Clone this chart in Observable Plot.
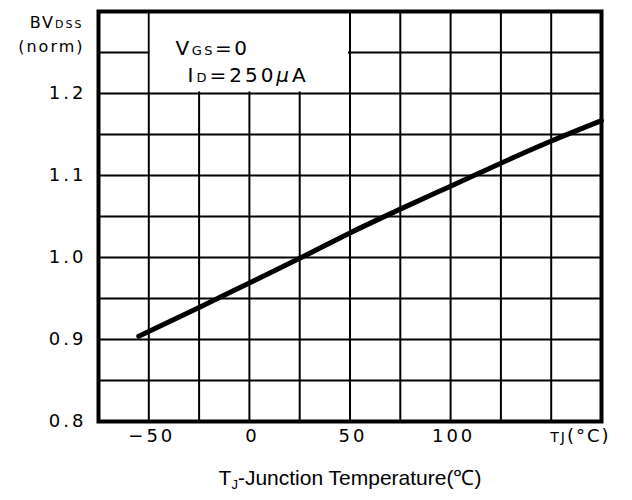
<!DOCTYPE html>
<html><head><meta charset="utf-8">
<script src="https://cdn.jsdelivr.net/npm/d3@7"></script>
<script src="https://cdn.jsdelivr.net/npm/@observablehq/plot@0.6"></script>
<style>
body{margin:0;background:#fff;}
#chart svg{display:block;}
</style>
</head><body><div id="chart"></div>
<script>
// ---- data ----
const temps = [-55, -25, 0, 25, 50, 75, 100, 125, 150, 175];
const bvdss = [0.904, 0.939, 0.969, 0.999, 1.030, 1.059, 1.087, 1.115, 1.142, 1.167];
const xTicks = [-50, 0, 50, 100, 150];
const xTickLabels = ["\u221250", "0", "50", "100", "TJ(\u00b0C)"];
const yTicks = [0.8, 0.9, 1.0, 1.1, 1.2];
const yTickLabels = ["0.8", "0.9", "1.0", "1.1", "1.2"];
const xGrid = [-50, -25, 0, 25, 50, 75, 100, 125, 150];
const yGrid = [0.85, 0.9, 0.95, 1.0, 1.05, 1.1, 1.15, 1.2, 1.25];
const xDomain = [-75, 175];
const yDomain = [0.8, 1.3];
const noteBox = [{x1: -50, x2: 50, y1: 1.2, y2: 1.3}];
const yTitle1 = "BVDSS";
const yTitle2 = "(norm)";
const note1 = "VGS=0";
const note2 = "ID=250\u00b5A";
const xTitle = "TJ-Junction Temperature(\u2103)";

const data = temps.map((t, i) => ({t, v: bvdss[i]}));
const FONT = "DejaVu Sans";

const chart = Plot.plot({
  width: 632, height: 500,
  marginLeft: 98, marginRight: 31, marginTop: 11, marginBottom: 79,
  style: {fontFamily: FONT, background: "#fff", color: "#000"},
  x: {domain: xDomain},
  y: {domain: yDomain},
  marks: [
    Plot.ruleX(xGrid, {stroke: "#000", strokeWidth: 2}),
    Plot.ruleY(yGrid, {stroke: "#000", strokeWidth: 2}),
    Plot.rect(noteBox, {x1: "x1", x2: "x2", y1: "y1", y2: "y2", fill: "#fff", inset: 1.5}),
    Plot.line(data, {x: "t", y: "v", stroke: "#000", strokeWidth: 5, curve: "monotone-x"}),
    Plot.frame({stroke: "#000", strokeWidth: 4}),
    Plot.axisY(yTicks, {tickFormat: d => yTickLabels[yTicks.indexOf(d)], tickSize: 0, tickPadding: 12, fontSize: 18, label: null}),
    Plot.axisX(xTicks, {tickFormat: d => xTickLabels[xTicks.indexOf(d)], tickSize: 0, tickPadding: 8, fontSize: 18, dx: 3, label: null}),
    Plot.text([yTitle1], {frameAnchor: "top-left", textAnchor: "end", dx: -15, dy: 5, fontSize: 16}),
    Plot.text([yTitle2], {frameAnchor: "top-left", textAnchor: "end", dx: -14, dy: 29, fontSize: 16}),
    Plot.text([note1], {frameAnchor: "top-left", textAnchor: "start", dx: 77, dy: 29, fontSize: 20}),
    Plot.text([note2], {frameAnchor: "top-left", textAnchor: "start", dx: 89, dy: 56, fontSize: 20}),
    Plot.text([xTitle], {frameAnchor: "bottom", dy: 63, fontSize: 21, fontFamily: "Liberation Sans"})
  ]
});
document.getElementById("chart").appendChild(chart);

// ---- typographic touch-ups: subscripts / small caps via tspans ----
const svg = d3.select(chart);
svg.selectAll("g[aria-label='y-axis tick label'] text, g[aria-label='x-axis tick label'] text")
  .style("letter-spacing", "3px");
const parts = {
  [yTitle1]: [["BV", 16, 0], ["DSS", 11, 0]],
  [yTitle2]: [["(norm)", 16, 0]],
  [note1]: [["V", 20, 0], ["GS", 13, 0], ["=0", 20, 0]],
  [note2]: [["I", 20, 0], ["D", 13, 0], ["=250", 20, 0], ["\u00b5", 20, 0, "italic"], ["A", 20, 0]],
  ["TJ(\u00b0C)"]: [["TJ", 14, 0], ["(\u00b0C)", 18, 0]],
  [xTitle]: [["T", 21, 0], ["J", 13, 4], ["-Junction Temperature(\u2103)", 21, -4]]
};
svg.selectAll("text").each(function() {
  const el = d3.select(this);
  const key = this.textContent;
  if (!(key in parts)) return;
  el.text(null);
  for (const [s, size, dy, fstyle] of parts[key]) {
    const ts = el.append("tspan").text(s).attr("font-size", size);
    if (dy) ts.attr("dy", dy);
    if (fstyle) ts.attr("font-style", fstyle);
  }
  if (key === yTitle1 || key === yTitle2) el.style("letter-spacing", "2px");
  if (key === note1) el.style("letter-spacing", "2.5px");
  if (key === note2) el.style("letter-spacing", "3px");
  if (key === "TJ(\u00b0C)") el.attr("text-anchor", "start").attr("dx", -4).style("letter-spacing", "2px");
});
</script>
</body></html>
